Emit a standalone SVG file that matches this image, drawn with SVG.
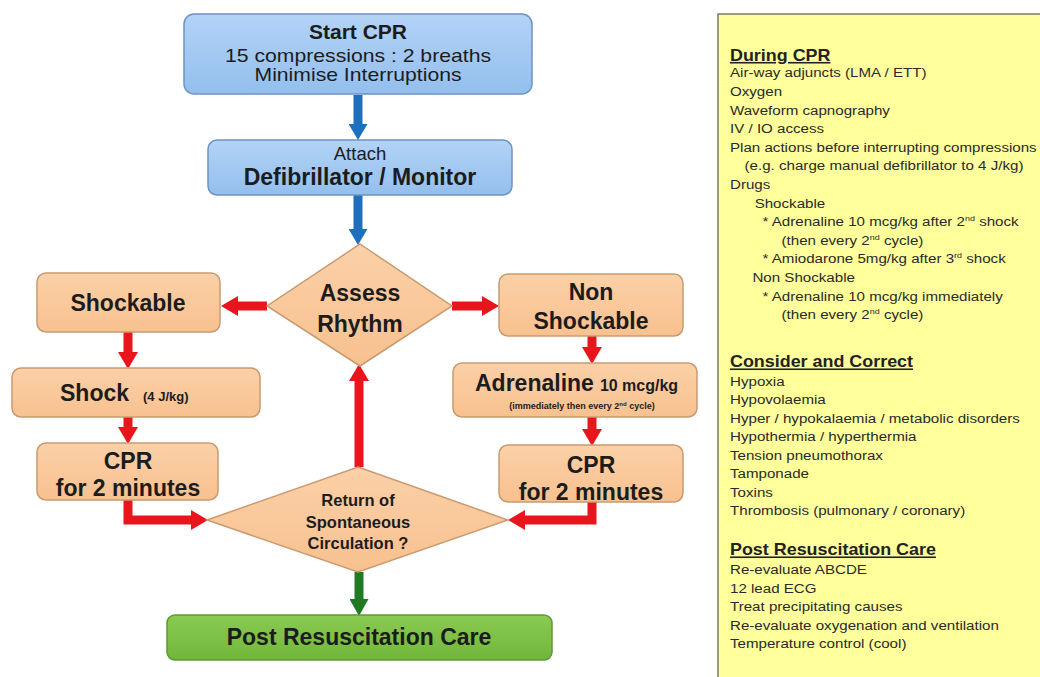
<svg xmlns="http://www.w3.org/2000/svg" width="1040" height="677" viewBox="0 0 1040 677">
<defs>
<linearGradient id="gBlue" x1="0" y1="0" x2="0" y2="1"><stop offset="0" stop-color="#b3d3f6"/><stop offset="1" stop-color="#93bfee"/></linearGradient>
<linearGradient id="gOrange" x1="0" y1="0" x2="0" y2="1"><stop offset="0" stop-color="#fbd0a8"/><stop offset="1" stop-color="#f8c18f"/></linearGradient>
<linearGradient id="gGreen" x1="0" y1="0" x2="0" y2="1"><stop offset="0" stop-color="#8acb52"/><stop offset="1" stop-color="#71b63a"/></linearGradient>
<marker id="hRed" markerUnits="userSpaceOnUse" markerWidth="17" markerHeight="20" viewBox="0 0 17 20" refX="0" refY="10" orient="auto"><path d="M0,0 L17,10 L0,20 z" fill="#e8151d"/></marker>
<marker id="hBlue" markerUnits="userSpaceOnUse" markerWidth="16" markerHeight="19" viewBox="0 0 16 19" refX="0" refY="9.5" orient="auto"><path d="M0,0 L16,9.5 L0,19 z" fill="#1f6fbf"/></marker>
<marker id="hGreen" markerUnits="userSpaceOnUse" markerWidth="17" markerHeight="19" viewBox="0 0 17 19" refX="0" refY="9.5" orient="auto"><path d="M0,0 L17,9.5 L0,19 z" fill="#1f7a22"/></marker>
</defs>
<style>
text{font-family:"Liberation Sans",Arial,sans-serif;fill:#1c1c1c}
.blue{fill:url(#gBlue);stroke:#6f93c4;stroke-width:1.5}
.orange{fill:url(#gOrange);stroke:#c99a70;stroke-width:1.5}
.green{fill:url(#gGreen);stroke:#5d9a35;stroke-width:1.5}
.b{font-weight:bold}
.c{text-anchor:middle}
.red{fill:none;stroke:#e8151d;stroke-width:9;stroke-linejoin:miter;marker-end:url(#hRed)}
.bl{fill:none;stroke:#1f6fbf;stroke-width:9;marker-end:url(#hBlue)}
.gr{fill:none;stroke:#1f7a22;stroke-width:9;marker-end:url(#hGreen)}
.pt{font-size:13.5px;fill:#2a2a2a}
.ph{font-size:16px;font-weight:bold;text-decoration:underline;fill:#222}
</style>
<rect width="1040" height="677" fill="#ffffff"/>

<g id="connectors">
<path class="bl" d="M358,95 V124"/>
<path class="bl" d="M358,195 V229"/>
<path class="red" d="M267,306 H238"/>
<path class="red" d="M452,306 H482"/>
<path class="red" d="M128,332 V352"/>
<path class="red" d="M128,417 V427"/>
<path class="red" d="M128,500 V520 H191"/>
<path class="red" d="M592,336 V347"/>
<path class="red" d="M592,417 V429"/>
<path class="red" d="M592,502 V520 H525"/>
<path class="red" d="M359,467 V381"/>
<path class="gr" d="M359,572 V599"/>
</g>

<g id="start-cpr">
<rect class="blue" x="184" y="14" width="348" height="80" rx="10"/>
<text class="b c" x="358" y="39" font-size="21">Start CPR</text>
<text class="c" x="358" y="62" font-size="18.5" textLength="266" lengthAdjust="spacingAndGlyphs">15 compressions : 2 breaths</text>
<text class="c" x="358" y="81" font-size="18.5" textLength="207" lengthAdjust="spacingAndGlyphs">Minimise Interruptions</text>
</g>

<g id="defibrillator">
<rect class="blue" x="208" y="140" width="304" height="55" rx="9"/>
<text class="c" x="360" y="160" font-size="18.5">Attach</text>
<text class="b c" x="360" y="185" font-size="23">Defibrillator / Monitor</text>
</g>

<g id="assess-rhythm">
<polygon class="orange" points="360,244 452,306 360,366 267,306"/>
<text class="b c" x="360" y="301" font-size="23">Assess</text>
<text class="b c" x="360" y="332" font-size="23">Rhythm</text>
</g>

<g id="shockable">
<rect class="orange" x="37" y="273" width="183" height="59" rx="9"/>
<text class="b c" x="128" y="311" font-size="23">Shockable</text>
</g>

<g id="shock">
<rect class="orange" x="12" y="368" width="248" height="49" rx="9"/>
<text class="b" x="60" y="401" font-size="23">Shock<tspan font-size="13" dx="14">(4 J/kg)</tspan></text>
</g>

<g id="cpr-left">
<rect class="orange" x="37" y="443" width="181" height="57" rx="9"/>
<text class="b c" x="128" y="469" font-size="23">CPR</text>
<text class="b c" x="128" y="496" font-size="23">for 2 minutes</text>
</g>

<g id="non-shockable">
<rect class="orange" x="499" y="274" width="184" height="62" rx="9"/>
<text class="b c" x="591" y="300" font-size="23">Non</text>
<text class="b c" x="591" y="329" font-size="23">Shockable</text>
</g>

<g id="adrenaline">
<rect class="orange" x="453" y="363" width="244" height="54" rx="9"/>
<text class="b" x="475" y="391" font-size="23">Adrenaline<tspan font-size="16" dx="6">10 mcg/kg</tspan></text>
<text class="b c" x="582" y="409" font-size="9">(immediately then every 2<tspan font-size="6" dy="-3">nd</tspan><tspan dy="3"> cycle)</tspan></text>
</g>

<g id="cpr-right">
<rect class="orange" x="499" y="445" width="184" height="57" rx="9"/>
<text class="b c" x="591" y="473" font-size="23">CPR</text>
<text class="b c" x="591" y="500" font-size="23">for 2 minutes</text>
</g>

<g id="rosc">
<polygon class="orange" points="358,467 508,520 358,572 207,520"/>
<text class="b c" x="358" y="506" font-size="16.5">Return of</text>
<text class="b c" x="358" y="528" font-size="16.5">Spontaneous</text>
<text class="b c" x="358" y="549" font-size="16.5">Circulation ?</text>
</g>

<g id="post-resuscitation-care">
<rect class="green" x="167" y="615" width="385" height="45" rx="8"/>
<text class="b c" x="359" y="645" font-size="23">Post Resuscitation Care</text>
</g>

<g id="info-panel">
<rect x="718" y="14" width="340" height="680" fill="#ffff9c" stroke="#7a7a6a" stroke-width="1.5"/>
<g transform="translate(730 0) scale(1.12 1)">
<text class="ph" x="0" y="61">During CPR</text>
<text class="pt" x="0" y="77.5">Air-way adjuncts (LMA / ETT)</text>
<text class="pt" x="0" y="96.1">Oxygen</text>
<text class="pt" x="0" y="114.7">Waveform capnography</text>
<text class="pt" x="0" y="133.3">IV / IO access</text>
<text class="pt" x="0" y="151.9">Plan actions before interrupting compressions</text>
<text class="pt" x="13" y="170.5">(e.g. charge manual defibrillator to 4 J/kg)</text>
<text class="pt" x="0" y="189.1">Drugs</text>
<text class="pt" x="22" y="207.7">Shockable</text>
<text class="pt" x="29" y="226.3">* Adrenaline 10 mcg/kg after 2<tspan font-size="8" dy="-5">nd</tspan><tspan dy="5">  shock</tspan></text>
<text class="pt" x="46" y="244.9">(then every 2<tspan font-size="8" dy="-5">nd</tspan><tspan dy="5"> cycle)</tspan></text>
<text class="pt" x="29" y="263.5">* Amiodarone 5mg/kg after 3<tspan font-size="8" dy="-5">rd</tspan><tspan dy="5"> shock</tspan></text>
<text class="pt" x="20" y="282.1">Non Shockable</text>
<text class="pt" x="29" y="300.7">* Adrenaline 10 mcg/kg immediately</text>
<text class="pt" x="46" y="319.3">(then every 2<tspan font-size="8" dy="-5">nd</tspan><tspan dy="5"> cycle)</tspan></text>

<text class="ph" x="0" y="367.5">Consider and Correct</text>
<text class="pt" x="0" y="386">Hypoxia</text>
<text class="pt" x="0" y="404.5">Hypovolaemia</text>
<text class="pt" x="0" y="423">Hyper / hypokalaemia / metabolic disorders</text>
<text class="pt" x="0" y="441.5">Hypothermia / hyperthermia</text>
<text class="pt" x="0" y="460">Tension pneumothorax</text>
<text class="pt" x="0" y="478.5">Tamponade</text>
<text class="pt" x="0" y="497">Toxins</text>
<text class="pt" x="0" y="515.5">Thrombosis (pulmonary / coronary)</text>

<text class="ph" x="0" y="555.5">Post Resuscitation Care</text>
<text class="pt" x="0" y="574.5">Re-evaluate ABCDE</text>
<text class="pt" x="0" y="593">12 lead ECG</text>
<text class="pt" x="0" y="611.5">Treat precipitating causes</text>
<text class="pt" x="0" y="630">Re-evaluate oxygenation and ventilation</text>
<text class="pt" x="0" y="648.5">Temperature control (cool)</text>
</g>
</g>
</svg>
